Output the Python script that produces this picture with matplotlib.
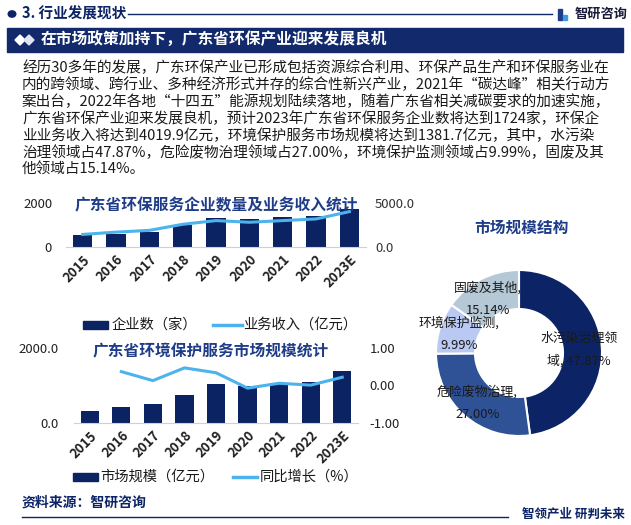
import matplotlib
matplotlib.use("Agg")
import matplotlib.pyplot as plt
from matplotlib.patches import Rectangle, Circle, Polygon
from matplotlib.lines import Line2D

plt.rcParams['font.family'] = ['Noto Sans CJK SC', 'DejaVu Sans']

# ---------------- data ----------------
years = ["2015", "2016", "2017", "2018", "2019", "2020", "2021", "2022", "2023E"]
enterprise_count = [550, 610, 700, 1020, 1310, 1260, 1350, 1400, 1724]
business_income = [1430, 1690, 1890, 2580, 3000, 2810, 3000, 3190, 4019.9]
market_size = [316, 418, 500, 745, 1040, 980, 1060, 1105, 1381.7]
yoy_growth = [None, 0.37, 0.13, 0.47, 0.34, -0.07, 0.06, 0.01, 0.22]
pie_labels = ["水污染治理领\n域, 47.87%", "危险废物治理,\n27.00%", "环境保护监测,\n9.99%", "固废及其他,\n15.14%"]
pie_values = [47.87, 27.00, 9.99, 15.14]

paragraph = [
    "经历30多年的发展，广东环保产业已形成包括资源综合利用、环保产品生产和环保服务业在",
    "内的跨领域、跨行业、多种经济形式并存的综合性新兴产业，2021年“碳达峰”相关行动方",
    "案出台，2022年各地“十四五”能源规划陆续落地，随着广东省相关减碳要求的加速实施，",
    "广东省环保产业迎来发展良机，预计2023年广东省环保服务企业数将达到1724家，环保企",
    "业业务收入将达到4019.9亿元，环境保护服务市场规模将达到1381.7亿元，其中，水污染",
    "治理领域占47.87%，危险废物治理领域占27.00%，环境保护监测领域占9.99%，固废及其",
    "他领域占15.14%。",
]

NAVY = "#0c2466"
BAR = "#0b2263"
LINE = "#4db3ec"
TITLE_C = "#1f3c88"
PIE_COLORS = ["#0c2466", "#2f5196", "#b9c9f2", "#b4c8d6"]

W, H = 631, 525
fig = plt.figure(figsize=(W / 100, H / 100), dpi=100)
fig.patch.set_facecolor("white")


def fx(x):
    return x / W


def fy(y):
    return 1 - y / H


def axes_px(x0, y0, x1, y1):
    return fig.add_axes([fx(x0), fy(y1), (x1 - x0) / W, (y1 - y0) / H])


# ---------------- header ----------------
fig.patches.append(Circle((fx(12), fy(14)), 3.8 / W, transform=fig.transFigure,
                          color=NAVY, zorder=5))
fig.text(fx(22), fy(14), "3. 行业发展现状", fontsize=10.5, fontweight="bold",
         color=NAVY, va="center", ha="left")
fig.add_artist(Line2D([fx(128), fx(552)], [fy(14), fy(14)], color=NAVY, lw=1.0))
# small logo
fig.patches.append(Rectangle((fx(558), fy(20)), 4 / W, 11 / H, transform=fig.transFigure,
                             color="#1f3c88"))
fig.patches.append(Rectangle((fx(563), fy(20)), 4 / W, 5 / H, transform=fig.transFigure,
                             color="#3a9be0"))
fig.text(fx(575), fy(14), "智研咨询", fontsize=9.5, fontweight="bold",
         color="#1a1a3a", va="center", ha="left")

# title bar
fig.patches.append(Rectangle((fx(7), fy(52)), 616 / W, 24 / H, transform=fig.transFigure,
                             color="#12296b"))
for cx in (20, 29):
    pts = [(fx(cx - 5), fy(40)), (fx(cx), fy(35)), (fx(cx + 5), fy(40)), (fx(cx), fy(45))]
    fig.patches.append(Polygon(pts, closed=True, transform=fig.transFigure,
                               color="white" if cx == 20 else "#dfe4f0"))
fig.text(fx(41), fy(40), "在市场政策加持下，广东省环保产业迎来发展良机", fontsize=11.3,
         fontweight="bold", color="white", va="center", ha="left")

# paragraph
for i, line in enumerate(paragraph):
    fig.text(fx(22), fy(68 + i * 17), line, fontsize=10.55, color="#1a1a1a",
             va="center", ha="left")

# ---------------- chart 1 ----------------
ax1 = axes_px(66, 203, 366, 247)
x = list(range(len(years)))
ax1.bar(x, enterprise_count, width=0.58, color=BAR, zorder=2)
ax1.set_xlim(-0.5, len(years) - 0.5)
ax1.set_ylim(0, 2000)
ax1.set_yticks([0, 2000])
ax1.set_yticklabels(["0", "2000"])
ax1.set_xticks(x)
ax1.set_xticklabels(years, rotation=45, ha="right", rotation_mode="anchor",
                    fontsize=9.5, fontweight="bold", color="#222222")
for s in ("top", "left", "right"):
    ax1.spines[s].set_visible(False)
ax1.spines["bottom"].set_color("#d0d0d0")
ax1.tick_params(axis="both", length=0)
ax1.tick_params(axis="y", pad=10, labelsize=9.5, labelcolor="#222222")
ax1.tick_params(axis="x", pad=4)
ax1.patch.set_alpha(0)
ax1b = ax1.twinx()
ax1b.plot(x, business_income, color=LINE, lw=2.2, zorder=3)
ax1b.set_ylim(0, 5000)
ax1b.set_yticks([0, 5000])
ax1b.set_yticklabels(["0.0", "5000.0"])
ax1b.tick_params(axis="y", length=0, pad=6.5, labelsize=9.5, labelcolor="#333333")
for s in ("top", "left", "right", "bottom"):
    ax1b.spines[s].set_visible(False)
fig.text(fx(216), fy(205), "广东省环保服务企业数量及业务收入统计", fontsize=11.3,
         fontweight="bold", color=TITLE_C, ha="center", va="center")

# legend 1
fig.patches.append(Rectangle((fx(83), fy(329)), 25 / W, 8 / H, transform=fig.transFigure,
                             color=BAR))
fig.text(fx(112), fy(325), "企业数（家）", fontsize=10.3, color="#1a1a1a",
         va="center", ha="left")
fig.add_artist(Line2D([fx(213), fx(242)], [fy(325), fy(325)], color=LINE, lw=2.5))
fig.text(fx(243), fy(325), "业务收入（亿元）", fontsize=10.3, color="#1a1a1a",
         va="center", ha="left")

# ---------------- chart 2 ----------------
ax2 = axes_px(74, 348, 358, 423)
ax2.bar(x, market_size, width=0.58, color=BAR, zorder=2)
ax2.set_xlim(-0.5, len(years) - 0.5)
ax2.set_ylim(0, 2000)
ax2.set_yticks([0, 2000])
ax2.set_yticklabels(["0.0", "2000.0"])
ax2.set_xticks(x)
ax2.set_xticklabels(years, rotation=45, ha="right", rotation_mode="anchor",
                    fontsize=9.5, fontweight="bold", color="#222222")
for s in ("top", "left", "right"):
    ax2.spines[s].set_visible(False)
ax2.spines["bottom"].set_color("#d0d0d0")
ax2.tick_params(axis="both", length=0)
ax2.tick_params(axis="y", pad=11, labelsize=9.5, labelcolor="#222222")
ax2.tick_params(axis="x", pad=4)
ax2.patch.set_alpha(0)
ax2b = ax2.twinx()
gx = [i for i, v in zip(x, yoy_growth) if v is not None]
gy = [v for v in yoy_growth if v is not None]
ax2b.plot(gx, gy, color=LINE, lw=2.2, zorder=3)
ax2b.set_ylim(-1, 1)
ax2b.set_yticks([-1, 0, 1])
ax2b.set_yticklabels(["-1.00", "0.00", "1.00"])
ax2b.tick_params(axis="y", length=0, pad=8.5, labelsize=9.5, labelcolor="#222222")
for s in ("top", "left", "right", "bottom"):
    ax2b.spines[s].set_visible(False)
fig.text(fx(211), fy(351), "广东省环境保护服务市场规模统计", fontsize=11.3,
         fontweight="bold", color=TITLE_C, ha="center", va="center")

# legend 2
fig.patches.append(Rectangle((fx(73), fy(481)), 25 / W, 8 / H, transform=fig.transFigure,
                             color=BAR))
fig.text(fx(100), fy(477), "市场规模（亿元）", fontsize=10.3, color="#1a1a1a",
         va="center", ha="left")
fig.add_artist(Line2D([fx(233), fx(257)], [fy(477), fy(477)], color=LINE, lw=2.5))
fig.text(fx(260), fy(477), "同比增长（%）", fontsize=10.3, color="#1a1a1a",
         va="center", ha="left")

# ---------------- donut ----------------
fig.text(fx(522), fy(228), "市场规模结构", fontsize=11.3, fontweight="bold",
         color=TITLE_C, ha="center", va="center")
ax3 = axes_px(436, 270, 602, 436)
ax3.pie(pie_values, colors=PIE_COLORS, startangle=90, counterclock=False,
        radius=1.0, wedgeprops=dict(width=0.47, edgecolor="white", linewidth=1.5))
ax3.set_xlim(-1, 1)
ax3.set_ylim(-1, 1)
ax3.set_aspect("equal")
ax3.axis("off")
label_pos = [(0.72, 0.04), (-0.50, -0.60), (-0.72, 0.23), (-0.37, 0.65)]
for lab, (lx, ly) in zip(pie_labels, label_pos):
    ax3.text(lx, ly, lab, fontsize=9.3, color="#1a1a1a", ha="center", va="center",
             linespacing=1.9, clip_on=False)

# ---------------- footer ----------------
fig.text(fx(22), fy(503), "资料来源：智研咨询", fontsize=10, fontweight="bold",
         color=NAVY, ha="left", va="center")
fig.add_artist(Line2D([fx(22), fx(508)], [fy(517), fy(517)], color=NAVY, lw=1.0))
fig.text(fx(625), fy(514), "智领产业 研判未来", fontsize=9, fontweight="bold",
         color=NAVY, ha="right", va="center")

fig.savefig("out.png", dpi=100, facecolor="white")
